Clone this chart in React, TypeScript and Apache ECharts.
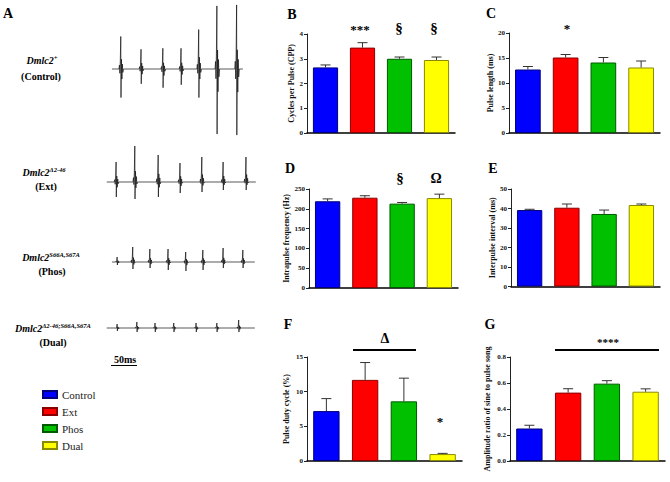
import React, { useEffect, useRef } from "react";
import * as echarts from "echarts";

const FONT = "'Liberation Serif', 'Times New Roman', serif";

const groups = ["Control", "Ext", "Phos", "Dual"];
const barColors = ["#0000ff", "#ff0000", "#00c000", "#ffff00"];
const barBorders = ["#00007a", "#8a0000", "#005a00", "#8a8a00"];

// Panel B: cycles per pulse
const cppMean = [2.65, 3.45, 3.0, 2.95];
const cppErr = [0.1, 0.2, 0.07, 0.12];
// Panel C: pulse length (ms)
const pulseLenMean = [12.7, 15.1, 14.1, 13.1];
const pulseLenErr = [0.6, 0.6, 1.0, 1.3];
// Panel D: intrapulse frequency (Hz)
const ipfMean = [219, 228, 213, 227];
const ipfErr = [6, 5, 3, 10];
// Panel E: interpulse interval (ms)
const ipiMean = [39.2, 40.4, 37.2, 41.8];
const ipiErr = [0.4, 1.9, 2.0, 0.5];
// Panel F: pulse duty cycle (%)
const dutyMean = [7.2, 11.7, 8.6, 1.0];
const dutyErr = [1.8, 2.5, 3.35, 0.1];
// Panel G: amplitude ratio of sine to pulse song
const ampMean = [0.25, 0.526, 0.595, 0.533];
const ampErr = [0.025, 0.03, 0.023, 0.022];

// Panel A traces: spike times (ms), up / down peak amplitudes
const ctrlRange = [23, 275];
const ctrlTimes = [40, 79, 121, 156, 190, 225, 263];
const ctrlUp = [33, 20, 21, 21, 40, 64, 65];
const ctrlDown = [29, 15, 19, 16, 29, 66, 67];

const extRange = [13, 300];
const extTimes = [31, 67, 112, 154, 196, 237, 281];
const extUp = [20, 36, 27, 19, 25, 20, 25];
const extDown = [15, 17, 15, 11, 10, 8, 8];

const phosRange = [23, 298];
const phosTimes = [33, 63, 96, 131, 165, 198, 237, 275];
const phosUp = [5, 15, 13, 13, 10, 12, 14, 12];
const phosDown = [3, 7, 6, 8, 9, 8, 6, 6];

const dualRange = [13, 298];
const dualTimes = [33, 71, 106, 142, 185, 225, 267];
const dualUp = [4, 6, 5, 5, 5, 5, 8];
const dualDown = [3, 4, 4, 4, 4, 4, 4];

function buildTrace(range: number[], times: number[], ups: number[], downs: number[]) {
  const pts: number[][] = [[range[0], 0]];
  times.forEach((t, i) => {
    const a = ups[i];
    const d = downs[i];
    pts.push(
      [t - 3.5, 0], [t - 2.6, 0.12 * a], [t - 1.8, -0.15 * d], [t - 0.9, 0.25 * a],
      [t, a], [t + 0.4, -d], [t + 1.3, 0.3 * a], [t + 2.2, -0.35 * d], [t + 3.1, 0.15 * a],
      [t + 4, -0.12 * d], [t + 5.2, 0]
    );
  });
  pts.push([range[1], 0]);
  return pts;
}

const panels = [
  { mean: cppMean, err: cppErr, max: 4, interval: 1, name: "Cycles per Pulse (CPP)", gap: 10, grid: { left: 307, top: 34, width: 148, height: 99 }, dec: 0 },
  { mean: pulseLenMean, err: pulseLenErr, max: 20, interval: 5, name: "Pulse length (ms)", gap: 12, grid: { left: 509, top: 33, width: 151, height: 100 }, dec: 0 },
  { mean: ipfMean, err: ipfErr, max: 250, interval: 50, name: "Intrapulse frequency (Hz)", gap: 19, grid: { left: 309, top: 189, width: 149, height: 99 }, dec: 0 },
  { mean: ipiMean, err: ipiErr, max: 50, interval: 10, name: "Interpulse interval (ms)", gap: 14, grid: { left: 511, top: 189, width: 149, height: 97.5 }, dec: 0 },
  { mean: dutyMean, err: dutyErr, max: 15, interval: 5, name: "Pulse duty cycle (%)", gap: 17, grid: { left: 307, top: 357, width: 155, height: 104 }, dec: 0 },
  { mean: ampMean, err: ampErr, max: 0.8, interval: 0.2, name: "Amplitude ratio of sine to pulse song", gap: 19, grid: { left: 510, top: 357, width: 155, height: 104 }, dec: 1 },
];

const traces = [
  { data: buildTrace(ctrlRange, ctrlTimes, ctrlUp, ctrlDown), base: 68 },
  { data: buildTrace(extRange, extTimes, extUp, extDown), base: 182 },
  { data: buildTrace(phosRange, phosTimes, phosUp, phosDown), base: 262 },
  { data: buildTrace(dualRange, dualTimes, dualUp, dualDown), base: 328 },
];

function buildOption() {
  const grid: any[] = [];
  const xAxis: any[] = [];
  const yAxis: any[] = [];
  const series: any[] = [];

  panels.forEach((p, pi) => {
    grid.push({ ...p.grid });
    xAxis.push({
      type: "category",
      gridIndex: pi,
      data: groups,
      axisLine: { lineStyle: { color: "#000", width: 1.5 } },
      axisTick: { show: false },
      axisLabel: { show: false },
    });
    yAxis.push({
      type: "value",
      gridIndex: pi,
      min: 0,
      max: p.max,
      interval: p.interval,
      name: p.name,
      nameLocation: "middle",
      nameGap: p.gap,
      nameTextStyle: { fontFamily: FONT, fontWeight: "bold", fontSize: 8, color: "#111" },
      axisLine: { show: true, lineStyle: { color: "#222", width: 1 } },
      axisTick: { show: true, length: 3, lineStyle: { color: "#222" } },
      axisLabel: {
        fontFamily: FONT,
        fontWeight: "bold",
        fontSize: 7,
        color: "#111",
        margin: 4,
        formatter: (v: number) => v.toFixed(p.dec),
      },
      splitLine: { show: false },
    });
    groups.forEach((g, gi) => {
      series.push({
        type: "bar",
        name: g,
        xAxisIndex: pi,
        yAxisIndex: pi,
        data: p.mean.map((v, k) => (k === gi ? v : "-")),
        barWidth: "68%",
        barGap: "-100%",
        itemStyle: { color: barColors[gi], borderColor: barBorders[gi], borderWidth: 1 },
        silent: true,
      });
    });
    series.push({
      type: "custom",
      xAxisIndex: pi,
      yAxisIndex: pi,
      z: 5,
      silent: true,
      data: p.mean.map((v, k) => [k, v, v + p.err[k]]),
      encode: { x: 0, y: [1, 2] },
      renderItem: (params: any, api: any) => {
        const idx = api.value(0);
        const b = api.coord([idx, api.value(1)]);
        const t = api.coord([idx, api.value(2)]);
        const stroke = "#333";
        return {
          type: "group",
          children: [
            { type: "line", shape: { x1: b[0], y1: b[1], x2: t[0], y2: t[1] }, style: { stroke, lineWidth: 1 } },
            { type: "line", shape: { x1: t[0] - 5, y1: t[1], x2: t[0] + 5, y2: t[1] }, style: { stroke, lineWidth: 1 } },
          ],
        };
      },
    });
  });

  traces.forEach((tr, ti) => {
    const gi = panels.length + ti;
    grid.push({ left: 100, width: 160, top: tr.base - 70, height: 140 });
    xAxis.push({ type: "value", gridIndex: gi, min: 0, max: 308, show: false });
    yAxis.push({ type: "value", gridIndex: gi, min: -70, max: 70, show: false });
    series.push({
      type: "line",
      xAxisIndex: gi,
      yAxisIndex: gi,
      data: tr.data,
      showSymbol: false,
      silent: true,
      lineStyle: { color: "#111", width: 0.7 },
    });
  });

  const letter = (t: string, x: number, y: number) => ({
    type: "text",
    x,
    y,
    style: { text: t, fontFamily: FONT, fontWeight: "bold", fontSize: 14, fill: "#000", align: "center", verticalAlign: "middle" },
  });
  const mark = (t: string, x: number, y: number, size: number) => ({
    type: "text",
    x,
    y,
    style: { text: t, fontFamily: FONT, fontWeight: "bold", fontSize: size, fill: "#000", align: "center", verticalAlign: "middle" },
  });
  const rich = {
    m: { fontFamily: FONT, fontWeight: "bold", fontStyle: "italic", fontSize: 10, lineHeight: 12, fill: "#000" },
    s: { fontFamily: FONT, fontWeight: "bold", fontStyle: "italic", fontSize: 6.5, lineHeight: 7, verticalAlign: "top", fill: "#000" },
  };
  const geno = (t: string, x: number, y: number) => ({
    type: "text",
    x,
    y,
    style: { text: t, rich, align: "center", verticalAlign: "middle" },
  });
  const sub = (t: string, x: number, y: number) => ({
    type: "text",
    x,
    y,
    style: { text: t, fontFamily: FONT, fontWeight: "bold", fontSize: 10, fill: "#000", align: "center", verticalAlign: "middle" },
  });

  const graphic: any[] = [
    letter("A", 8, 13),
    letter("B", 292, 14),
    letter("C", 491, 13),
    letter("D", 290, 168),
    letter("E", 493, 168),
    letter("F", 288, 324),
    letter("G", 490, 324),
    mark("***", 360, 29, 13),
    mark("§", 399, 28, 15),
    mark("§", 434, 28, 15),
    mark("*", 567, 28, 13),
    mark("§", 400, 178, 15),
    mark("Ω", 436, 178, 14),
    mark("Δ", 385, 338, 14),
    { type: "line", shape: { x1: 353, y1: 350, x2: 416, y2: 350 }, style: { stroke: "#000", lineWidth: 2 } },
    mark("*", 440, 421, 13),
    mark("****", 608, 342, 11),
    { type: "line", shape: { x1: 555, y1: 350, x2: 659, y2: 350 }, style: { stroke: "#000", lineWidth: 2 } },
    geno("{m|Dmlc2}{s|+}", 42, 60),
    sub("(Control)", 41, 76),
    geno("{m|Dmlc2}{s|Δ2-46}", 44, 172),
    sub("(Ext)", 46, 186),
    geno("{m|Dmlc2}{s|S66A,S67A}", 51, 257),
    sub("(Phos)", 52, 271),
    geno("{m|Dmlc2}{s|Δ2-46;S66A,S67A}", 53, 328),
    sub("(Dual)", 53, 342),
    sub("50ms", 125, 359),
    { type: "line", shape: { x1: 111, y1: 365.5, x2: 137, y2: 365.5 }, style: { stroke: "#000", lineWidth: 1 } },
  ];

  return {
    animation: false,
    textStyle: { fontFamily: FONT },
    grid,
    xAxis,
    yAxis,
    series,
    legend: {
      data: groups,
      orient: "vertical",
      left: 37,
      top: 384,
      itemWidth: 14,
      itemHeight: 7,
      itemGap: 6,
      icon: "rect",
      selectedMode: false,
      textStyle: { fontFamily: FONT, fontSize: 11, color: "#222" },
    },
    graphic,
  };
}

export default function App() {
  const ref = useRef<HTMLDivElement>(null);
  useEffect(() => {
    if (!ref.current) return;
    const chart = echarts.init(ref.current, undefined, { renderer: "svg" });
    chart.setOption(buildOption() as any);
    return () => chart.dispose();
  }, []);
  return <div ref={ref} style={{ width: 670, height: 482, position: "absolute", left: 0, top: 0, background: "#fff" }} />;
}
